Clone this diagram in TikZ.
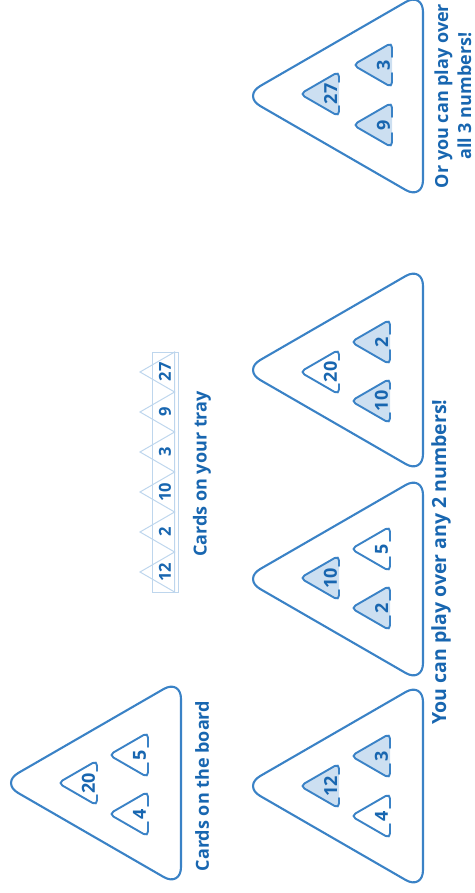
\documentclass[tikz,border=0pt]{standalone}
\usepackage{fontspec}
\setmainfont{Open Sans}
\definecolor{lineblue}{RGB}{58,130,198}
\definecolor{txtblue}{RGB}{24,102,176}
\definecolor{cardfill}{RGB}{204,223,241}
\definecolor{trayline}{RGB}{190,214,237}
\tikzset{
  bigline/.style={draw=lineblue, line width=2.1pt, rounded corners=20pt},
  cardline/.style={draw=lineblue, line width=1.9pt, rounded corners=5pt, line cap=round},
  cardnum/.style={text=txtblue, font=\fontsize{18}{18}\selectfont\bfseries, rotate=90, inner sep=0pt},
  traynum/.style={text=txtblue, font=\fontsize{16.5}{17}\selectfont\bfseries, rotate=90, inner sep=0pt},
  label/.style={text=txtblue, font=\fontsize{18}{23}\selectfont\bfseries, rotate=90, align=center, inner sep=0pt},
  biglabel/.style={label, font=\fontsize{19.5}{23}\selectfont\bfseries},
  trayedge/.style={draw=trayline, line width=1pt},
}
% big rounded triangle: right x, centre y
\newcommand\bigtri[2]{%
  \draw[bigline] (#1,#2-104) -- (#1-180.1,#2) -- (#1,#2+104) -- cycle;}
% card: name, right x, centre y, fill colour, number, half gap
\newcommand\mycard[6]{%
  \fill[#4, rounded corners=5pt] (#2,#3-22.5) -- (#2-38.97,#3) -- (#2,#3+22.5) -- cycle;
  \draw[cardline] (#2,#3-#6) -- (#2,#3-22.5) -- (#2-38.97,#3) -- (#2,#3+22.5) -- (#2,#3+#6);
  \node[cardnum] (#1) at (#2-8.5,#3) {#5};}
% tray card: name, centre y, number
\newcommand\traycard[3]{%
  \draw[trayedge] (174.6,#2-20) -- (140,#2) -- (174.6,#2+20) -- cycle;
  \node[traynum] (#1) at (165,#2) {#3};}
\begin{document}
\begin{tikzpicture}[x=1pt,y=-1pt]
\useasboundingbox (0,0) rectangle (474,893);
% board
\bigtri{181}{783}
\mycard{b20}{97}{783}{white}{20}{12}
\mycard{b5}{148}{755}{white}{5}{8}
\mycard{b4}{148}{814}{white}{4}{8}
\node[label] (lboard) at (202,786) {Cards on the board};
% tray
\draw[trayedge] (152,352) rectangle (178,592);
\traycard{t27}{372}{27}
\traycard{t9}{412}{9}
\traycard{t3}{452}{3}
\traycard{t10}{492}{10}
\traycard{t2}{532}{2}
\traycard{t12}{572}{12}
\node[label] (ltray) at (202,474) {Cards on your tray};
% play examples
\bigtri{423}{786}
\mycard{a12}{339}{786}{cardfill}{12}{12}
\mycard{a3}{390}{756}{cardfill}{3}{8}
\mycard{a4}{390}{816}{white}{4}{8}
\bigtri{423}{579}
\mycard{c10}{339}{578}{cardfill}{10}{12}
\mycard{c5}{390}{549}{white}{5}{8}
\mycard{c2}{390}{608}{cardfill}{2}{8}
\bigtri{423}{370}
\mycard{d20}{339}{372}{white}{20}{12}
\mycard{d2}{390}{342}{cardfill}{2}{8}
\mycard{d10}{390}{401}{cardfill}{10}{12}
\node[biglabel] (ltwo) at (441,562) {You can play over any 2 numbers!};
\bigtri{423}{96}
\mycard{e27}{339}{94}{cardfill}{27}{12}
\mycard{e3}{392}{65}{cardfill}{3}{8}
\mycard{e9}{392}{125}{cardfill}{9}{8}
\node[label] (lthree) at (453,96) {Or you can play over\\all 3 numbers!};
\end{tikzpicture}
\end{document}
